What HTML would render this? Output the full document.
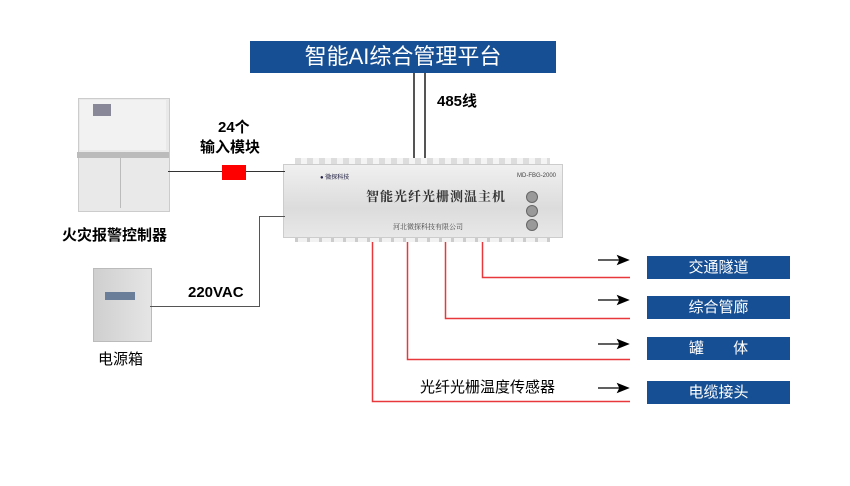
<!DOCTYPE html>
<html><head><meta charset="utf-8"><style>
body{margin:0;width:850px;height:486px;background:#fff;position:relative;overflow:hidden;font-family:"Liberation Sans","Noto Sans CJK SC",sans-serif}
.a{position:absolute}
.blue{background:#174f94;color:#fff;text-align:center;font-size:15px}
.t{position:absolute;white-space:nowrap}
</style></head><body>
<div class="a blue" style="left:250px;top:41px;width:306px;height:32px;line-height:32px;font-size:22px">智能AI综合管理平台</div>
<div class="a" style="left:413px;top:73px;width:2px;height:85px;background:#555"></div>
<div class="a" style="left:424px;top:73px;width:2px;height:85px;background:#555"></div>
<div class="t" style="left:437px;top:90px;font-size:15px;font-weight:bold">485线</div>

<!-- device -->
<div class="a" style="left:295px;top:158px;width:255px;height:8px;background:repeating-linear-gradient(90deg,#ddd 0 6px,#f4f4f4 6px 12px)"></div>
<div class="a" style="left:295px;top:234px;width:255px;height:8px;background:repeating-linear-gradient(90deg,#ccc 0 3px,#f2f2f2 3px 12px)"></div>
<div class="a" style="left:283px;top:164px;width:278px;height:72px;background:linear-gradient(180deg,#f0f0f0,#dcdcdc 60%,#e8e8e8);border:1px solid #ccc"></div>
<div class="t" style="left:320px;top:172px;font-size:6px;color:#224">● 微探科技</div>
<div class="t" style="left:517px;top:173px;font-size:6px;color:#444">MD-FBG-2000</div>
<div class="t" style="left:366px;top:186px;font-size:13px;font-weight:bold;font-family:'Noto Serif CJK SC',serif;color:#333;letter-spacing:1px">智能光纤光栅测温主机</div>
<div class="t" style="left:393px;top:222px;font-size:7px;color:#444;font-family:'Noto Serif CJK SC',serif">河北微探科技有限公司</div>
<div class="a" style="left:526px;top:191px;width:10px;height:10px;border-radius:50%;background:#999;border:1px solid #666"></div>
<div class="a" style="left:526px;top:205px;width:10px;height:10px;border-radius:50%;background:#999;border:1px solid #666"></div>
<div class="a" style="left:526px;top:219px;width:10px;height:10px;border-radius:50%;background:#999;border:1px solid #666"></div>

<!-- left side -->
<div class="a" style="left:78px;top:98px;width:90px;height:112px;background:#e9e9e9;border:1px solid #ccc"></div>
<div class="a" style="left:80px;top:100px;width:86px;height:50px;background:#f2f2f2"></div>
<div class="a" style="left:93px;top:104px;width:18px;height:12px;background:#889"></div>
<div class="a" style="left:77px;top:152px;width:92px;height:6px;background:#bbb"></div>
<div class="a" style="left:120px;top:158px;width:1px;height:50px;background:#bbb"></div>
<div class="t" style="left:62px;top:224px;font-size:15px;font-weight:bold">火灾报警控制器</div>
<div class="a" style="left:168px;top:171px;width:117px;height:1px;background:#333"></div>
<div class="a" style="left:222px;top:165px;width:24px;height:15px;background:#f00"></div>
<div class="t" style="left:218px;top:116px;font-size:15px;font-weight:bold">24个</div>
<div class="t" style="left:200px;top:136px;font-size:15px;font-weight:bold">输入模块</div>

<div class="a" style="left:93px;top:268px;width:57px;height:72px;background:linear-gradient(90deg,#cfcfcf,#e5e5e5);border:1px solid #bbb"></div>
<div class="a" style="left:105px;top:292px;width:30px;height:8px;background:#6a7e9a"></div>
<div class="t" style="left:98px;top:348px;font-size:15px">电源箱</div>
<div class="a" style="left:150px;top:306px;width:110px;height:1px;background:#555"></div>
<div class="a" style="left:259px;top:216px;width:1px;height:91px;background:#555"></div>
<div class="a" style="left:259px;top:216px;width:26px;height:1px;background:#555"></div>
<div class="t" style="left:188px;top:284px;font-size:15px;font-weight:bold">220VAC</div>

<div class="t" style="left:420px;top:376px;font-size:15px">光纤光栅温度传感器</div>

<svg class="a" style="left:0;top:0" width="850" height="486">
<g stroke="#e8383b" stroke-width="1.5" fill="none">
<path d="M372.5 242 V401.5 H630"/>
<path d="M407.5 242 V359.5 H630"/>
<path d="M445.5 242 V318.5 H630"/>
<path d="M482.5 242 V277.5 H630"/>
</g>
<g stroke="#000" stroke-width="1.3" fill="#000">
<line x1="598" y1="260" x2="622" y2="260"/><path d="M628 260 L618 256 L620 260 L618 264Z"/>
<line x1="598" y1="300" x2="622" y2="300"/><path d="M628 300 L618 296 L620 300 L618 304Z"/>
<line x1="598" y1="344" x2="622" y2="344"/><path d="M628 344 L618 340 L620 344 L618 348Z"/>
<line x1="598" y1="388" x2="622" y2="388"/><path d="M628 388 L618 384 L620 388 L618 392Z"/>
</g></svg>

<div class="a blue" style="left:647px;top:256px;width:143px;height:23px;line-height:23px">交通隧道</div>
<div class="a blue" style="left:647px;top:296px;width:143px;height:23px;line-height:23px">综合管廊</div>
<div class="a blue" style="left:647px;top:337px;width:143px;height:23px;line-height:23px">罐&nbsp;&nbsp;&nbsp;&nbsp;&nbsp;&nbsp;&nbsp;体</div>
<div class="a blue" style="left:647px;top:381px;width:143px;height:23px;line-height:23px">电缆接头</div>
</body></html>
